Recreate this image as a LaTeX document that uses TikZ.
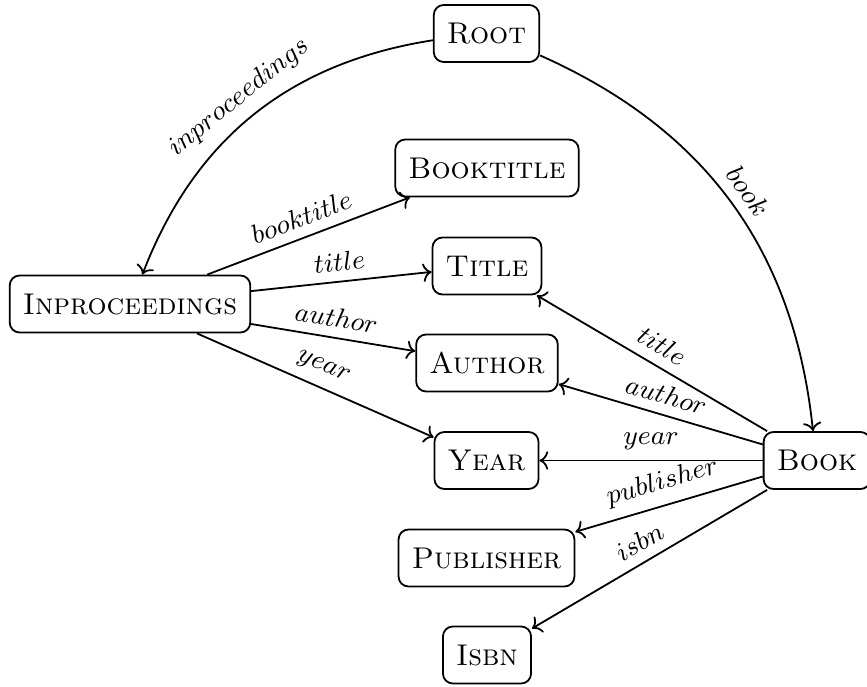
\documentclass[tikz,border=0pt]{standalone}
\usetikzlibrary{arrows.meta}
\begin{document}
\begin{tikzpicture}[x=0.33333pt,y=-0.33333pt,
  entity/.style={draw,rounded corners=3.3pt,semithick,minimum height=19pt,inner xsep=4.4pt,inner ysep=3pt,font=\normalsize},
  rel/.style={->,semithick},
  lbl/.style={font=\small,sloped,above}]
\useasboundingbox (0,0) rectangle (867,687);

% entity boxes
\node[entity] (root)  at (486.5,33.5) {\textsc{Root}};
\node[entity] (btit)  at (487,168)    {\textsc{Booktitle}};
\node[entity] (title) at (487,266)    {\textsc{Title}};
\node[entity] (inpr)  at (130,304)    {\textsc{Inproceedings}};
\node[entity] (auth)  at (487,363)    {\textsc{Author}};
\node[entity] (year)  at (486.5,460.5){\textsc{Year}};
\node[entity] (book)  at (817,460.5)  {\textsc{Book}};
\node[entity] (publ)  at (486.5,558)  {\textsc{Publisher}};
\node[entity] (isbn)  at (487,655)    {\textsc{Isbn}};

% curved edges from the root
\draw[rel] (root) to[bend right=30] node[lbl] {$inproceedings$} (inpr);
\draw[rel] (root) to[bend left=30]  node[lbl] {$book$} (book);

% attributes of an inproceedings entry
\draw[rel] (inpr) -- node[lbl] {$booktitle$} (btit);
\draw[rel] (inpr) -- node[lbl] {$title$} (title);
\draw[rel] (inpr) -- node[lbl] {$author$} (auth);
\draw[rel] (inpr) -- node[lbl] {$year$} (year);

% attributes of a book entry
\draw[rel] (book) -- node[lbl] {$title$} (title);
\draw[rel] (book) -- node[lbl] {$author$} (auth);
\draw[rel] (book) -- node[lbl] {$year$} (year);
\draw[rel] (book) -- node[lbl] {$publisher$} (publ);
\draw[rel] (book) -- node[lbl] {$isbn$} (isbn);
\end{tikzpicture}
\end{document}
